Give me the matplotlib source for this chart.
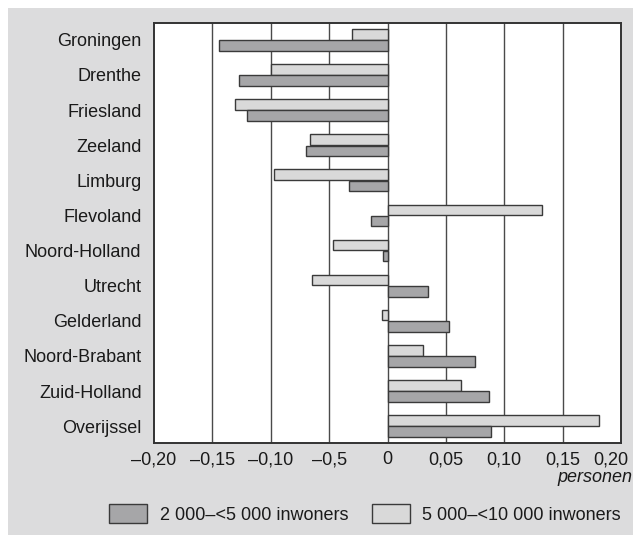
import matplotlib.pyplot as plt
from matplotlib.patches import Rectangle, Patch
from matplotlib.transforms import ScaledTranslation

plt.rcParams['font.family'] = ['Liberation Sans', 'DejaVu Sans']

# provincies, van boven naar beneden
provincies = ['Groningen', 'Drenthe', 'Friesland', 'Zeeland', 'Limburg', 'Flevoland',
              'Noord-Holland', 'Utrecht', 'Gelderland', 'Noord-Brabant', 'Zuid-Holland',
              'Overijssel']

# 2 000-<5 000 inwoners (donker)
klein = [-0.144, -0.127, -0.120, -0.070, -0.033, -0.014, -0.004, 0.035, 0.053, 0.075, 0.087, 0.089]
# 5 000-<10 000 inwoners (licht)
groot = [-0.030, -0.100, -0.131, -0.066, -0.097, 0.132, -0.047, -0.065, -0.005, 0.030, 0.063, 0.181]

tick_waarden = [-0.20, -0.15, -0.10, -0.05, 0, 0.05, 0.10, 0.15, 0.20]
tick_labels = ['–0,20', '–0,15', '–0,10', '–0,5', '0', '0,05', '0,10', '0,15', '0,20']

donker = '#a6a6a8'
licht = '#d9d9d9'
achtergrond = '#dcdcdd'
rand = '#3a3a3a'

fig = plt.figure(figsize=(6.33, 5.35), dpi=100, facecolor='white')
fig.add_artist(Rectangle((8 / 633, 0), 1, 1 - 8 / 535, transform=fig.transFigure,
                         facecolor=achtergrond, edgecolor='none', zorder=0))

ax = fig.add_axes([154 / 633, 1 - 443 / 535, 467 / 633, 420 / 535])
ax.set_facecolor('white')

y = list(range(len(provincies)))
h = 0.3
ax.barh([v - h / 2 - 0.01 for v in y], groot, height=h, color=licht, edgecolor=rand,
        linewidth=1, zorder=3)
ax.barh([v + h / 2 + 0.01 for v in y], klein, height=h, color=donker, edgecolor=rand,
        linewidth=1, zorder=3)

ax.set_xlim(-0.20, 0.20)
ax.set_ylim(len(provincies) - 0.52, -0.48)

# verticale lijnen
for t in tick_waarden[1:-1]:
    ax.axvline(t, color='#4a4a4a', linewidth=1, zorder=2)

ax.set_xticks(tick_waarden)
ax.set_xticklabels(tick_labels)
ax.set_yticks(y)
ax.set_yticklabels(provincies)
ax.tick_params(axis='both', length=0, labelsize=13, colors='#1a1a1a')
ax.tick_params(axis='x', pad=6)
ax.tick_params(axis='y', pad=9)
for s in ax.spines.values():
    s.set_color('#333333')
    s.set_linewidth(1.4)

# laatste label iets naar links, zoals in het origineel
laatste = ax.get_xticklabels()[-1]
laatste.set_transform(laatste.get_transform() + ScaledTranslation(-10 / 100, 0, fig.dpi_scale_trans))

fig.text(632 / 633, 1 - 477 / 535, 'personen', ha='right', va='center', fontsize=13,
         style='italic', color='#1a1a1a')

handles = [Patch(facecolor=donker, edgecolor=rand, linewidth=1),
           Patch(facecolor=licht, edgecolor=rand, linewidth=1)]
fig.legend(handles, ['2 000–<5 000 inwoners', '5 000–<10 000 inwoners'], ncol=2,
           loc='center', bbox_to_anchor=(0.577, 1 - 514 / 535), frameon=False,
           fontsize=13, handlelength=2.1, handleheight=1.25, handletextpad=0.7,
           columnspacing=1.3, labelcolor='#1a1a1a')

fig.savefig('out.png', dpi=100, facecolor=fig.get_facecolor())
